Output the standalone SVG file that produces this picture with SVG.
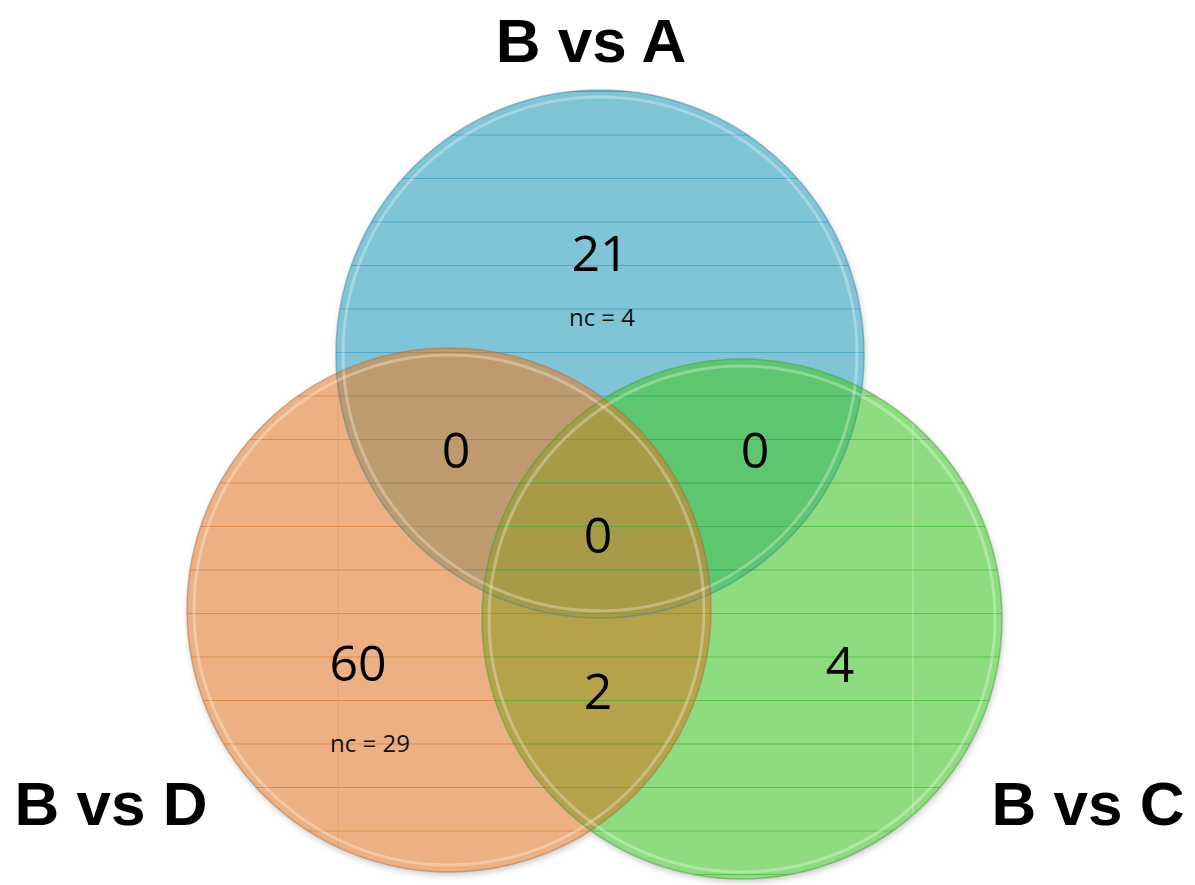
<svg xmlns="http://www.w3.org/2000/svg" width="1195" height="885" viewBox="0 0 1195 885">
<style>
.title{font-family:"Liberation Sans",Arial,sans-serif;font-weight:700;font-size:62px;fill:#000;text-anchor:middle}
.num{font-family:"Open Sans","Liberation Sans",sans-serif;font-size:50px;fill:#000;text-anchor:middle}
.nc{font-family:"Open Sans","Liberation Sans",sans-serif;font-size:24px;fill:#111;text-anchor:middle}
.edge{fill:none;stroke-width:1.5;stroke-opacity:0.45}
.gloss{fill:none;stroke:#fff;stroke-width:3;stroke-opacity:0.3}
</style>
<defs>
<clipPath id="cA"><circle cx="600" cy="354" r="264"/></clipPath>
<clipPath id="cD"><circle cx="449" cy="610" r="262"/></clipPath>
<clipPath id="cC"><circle cx="742" cy="619" r="260"/></clipPath>
<filter id="sh" x="-10%" y="-10%" width="120%" height="120%"><feGaussianBlur stdDeviation="3"/></filter>
<g id="hl">
<line x1="180" x2="1010" y1="91.5" y2="91.5"/><line x1="180" x2="1010" y1="135" y2="135"/>
<line x1="180" x2="1010" y1="178.5" y2="178.5"/><line x1="180" x2="1010" y1="222" y2="222"/>
<line x1="180" x2="1010" y1="265.5" y2="265.5"/><line x1="180" x2="1010" y1="309" y2="309"/>
<line x1="180" x2="1010" y1="352.5" y2="352.5"/><line x1="180" x2="1010" y1="396" y2="396"/>
<line x1="180" x2="1010" y1="439.5" y2="439.5"/><line x1="180" x2="1010" y1="483" y2="483"/>
<line x1="180" x2="1010" y1="526.5" y2="526.5"/><line x1="180" x2="1010" y1="570" y2="570"/>
<line x1="180" x2="1010" y1="613.5" y2="613.5"/><line x1="180" x2="1010" y1="657" y2="657"/>
<line x1="180" x2="1010" y1="700.5" y2="700.5"/><line x1="180" x2="1010" y1="744" y2="744"/>
<line x1="180" x2="1010" y1="787.5" y2="787.5"/><line x1="180" x2="1010" y1="831" y2="831"/>
<line x1="180" x2="1010" y1="874.5" y2="874.5"/>
</g>
</defs>
<rect width="1195" height="885" fill="#fff"/>

<g id="shadows" fill="#888" opacity="0.45" filter="url(#sh)">
<circle cx="601" cy="357" r="264"/>
<circle cx="450" cy="613" r="262"/>
<circle cx="743" cy="622" r="260"/>
</g>

<g id="node-bva">
<circle cx="600" cy="354" r="264" fill="#80C4D8"/>
</g>
<g id="node-bvd">
<circle cx="449" cy="610" r="262" fill="#ECB082"/>
</g>
<g id="node-bvc">
<circle cx="742" cy="619" r="260" fill="#8EDC80"/>
</g>

<g id="region-a-d"><circle cx="449" cy="610" r="262" fill="#BD9B6E" clip-path="url(#cA)"/></g>
<g id="region-a-c"><circle cx="742" cy="619" r="260" fill="#5DC66E" clip-path="url(#cA)"/></g>
<g id="region-d-c"><circle cx="742" cy="619" r="260" fill="#B4A34B" clip-path="url(#cD)"/></g>
<g id="region-a-d-c" clip-path="url(#cA)"><circle cx="742" cy="619" r="260" fill="#A89B48" clip-path="url(#cD)"/></g>

<g id="gridlines" stroke-width="1.2">
<g clip-path="url(#cA)" stroke="#3E9DBB" stroke-opacity="0.75"><use href="#hl"/></g>
<g clip-path="url(#cD)" stroke="#D97E30" stroke-opacity="0.7"><use href="#hl"/>
<line x1="338" x2="338" y1="340" y2="880" stroke="#E39A5E" stroke-opacity="0.6" stroke-width="1"/></g>
<g clip-path="url(#cC)" stroke="#3DB832" stroke-opacity="0.7"><use href="#hl"/>
<line x1="913" x2="913" y1="350" y2="880" stroke="#C8F0C0" stroke-opacity="0.7" stroke-width="1"/></g>
</g>

<g id="edges">
<circle cx="600" cy="354" r="264" class="edge" stroke="#3A8098"/>
<circle cx="600" cy="354" r="257" class="gloss"/>
<circle cx="449" cy="610" r="262" class="edge" stroke="#A0683A"/>
<circle cx="449" cy="610" r="255" class="gloss"/>
<circle cx="742" cy="619" r="260" class="edge" stroke="#3F9A38"/>
<circle cx="742" cy="619" r="253" class="gloss"/>
</g>

<g id="labels">
<text class="title" x="591" y="62">B vs A</text>
<text class="title" x="111" y="825">B vs D</text>
<text class="title" x="1088" y="825">B vs C</text>
<text class="num" x="600" y="271">21</text>
<text class="nc" x="602" y="326">nc = 4</text>
<text class="num" x="358" y="681">60</text>
<text class="nc" x="370" y="752">nc = 29</text>
<text class="num" x="840" y="682">4</text>
<text class="num" x="456" y="468">0</text>
<text class="num" x="755" y="468">0</text>
<text class="num" x="598" y="553">0</text>
<text class="num" x="598" y="709">2</text>
</g>
</svg>
